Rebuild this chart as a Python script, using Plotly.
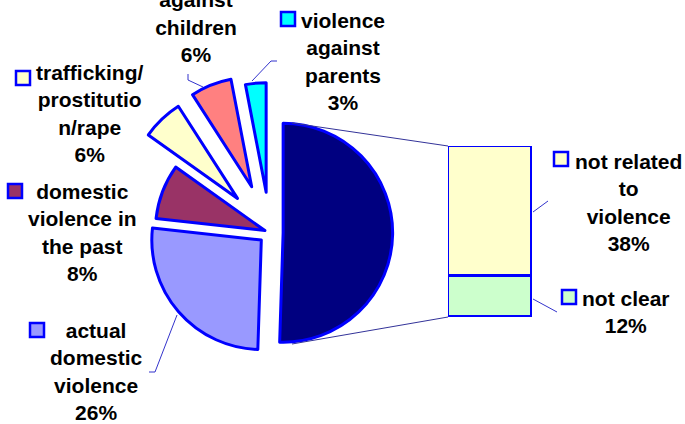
import plotly.graph_objects as go

W, H = 685, 424

# ---- data ----
bar_labels = ["not clear", "not related to violence"]
bar_values = [12, 38]
pie_labels = ["other", "actual domestic violence", "domestic violence in the past",
              "trafficking/prostitution/rape", "violence against children",
              "violence against parents"]
pie_values = [sum(bar_values), 26, 8, 6, 6, 3]
pie_colors = ["#000080", "#9999FF", "#993366", "#FFFFCC", "#FF8080", "#00FFFF"]
bar_colors = ["#CCFFCC", "#FFFFCC"]
pie_pull = [0.12, 0.105, 0.05, 0.43, 0.45, 0.37]

# display line-breaks of labels (as in the picture)
pie_label_lines = {
    "actual domestic violence": ["actual", "domestic", "violence"],
    "domestic violence in the past": ["domestic", "violence in", "the past"],
    "trafficking/prostitution/rape": ["trafficking/", "prostitutio", "n/rape"],
    "violence against children": ["violence", "against", "children"],
    "violence against parents": ["violence", "against", "parents"],
}
bar_label_lines = {
    "not clear": ["not clear"],
    "not related to violence": ["not related", "to", "violence"],
}


def P(x, y):
    return x / W, 1 - y / H


fig = go.Figure()

# pie geometry
cx, cy, r = 270, 232.5, 109.5
half = r * (2 + 2 * max(pie_pull)) / 2
fig.add_trace(go.Pie(
    labels=pie_labels, values=pie_values, sort=False, direction="clockwise",
    rotation=0, pull=pie_pull, textinfo="none", hoverinfo="label+percent",
    marker=dict(colors=pie_colors, line=dict(color="#0000FF", width=3)),
    domain=dict(x=[(cx - half) / W, (cx + half) / W],
                y=[1 - (cy + half) / H, 1 - (cy - half) / H]),
    showlegend=False,
))

# bar of pie
for lab, val, col in zip(bar_labels, bar_values, bar_colors):
    fig.add_trace(go.Bar(
        x=["other"], y=[val], name=lab, width=1, cliponaxis=False,
        marker=dict(color=col, line=dict(color="#0000FF", width=3)),
        showlegend=False, hoverinfo="name+y",
    ))

shapes = []
# connector lines pie -> bar
for a, b in [((292, 123), (448, 146)), ((292, 344), (448, 317))]:
    x0, y0 = P(*a); x1, y1 = P(*b)
    shapes.append(dict(type="line", xref="paper", yref="paper", x0=x0, y0=y0,
                       x1=x1, y1=y1, line=dict(color="#333399", width=1)))

# leader lines
leaders = [
    [(188, 74), (188, 80), (203, 87)],
    [(277, 61), (271, 61), (252, 81)],
    [(177, 315), (155, 372), (149, 372)],
    [(533, 212), (548, 201)],
    [(533, 299), (557, 312)],
]
for pts in leaders:
    path = ""
    for i, (x, y) in enumerate(pts):
        px_, py_ = P(x, y)
        path += ("M" if i == 0 else "L") + f"{px_},{py_} "
    shapes.append(dict(type="path", xref="paper", yref="paper", path=path,
                       line=dict(color="#3333CC", width=1)))

# legend keys
keys = [
    ((281, 12), "#00FFFF"),
    ((16, 71), "#FFFFCC"),
    ((8, 184), "#993366"),
    ((30, 323), "#9999FF"),
    ((554, 152), "#FFFFCC"),
    ((562, 290), "#CCFFCC"),
]
for (x, y), col in keys:
    x0, y1 = P(x, y); x1, y0 = P(x + 14, y + 14)
    shapes.append(dict(type="rect", xref="paper", yref="paper", x0=x0, x1=x1,
                       y0=y0, y1=y1, fillcolor=col,
                       line=dict(color="#0000FF", width=2.5)))

# labels
label_pos = {
    "violence against children": (196, 13),
    "violence against parents": (343, 61.25),
    "trafficking/prostitution/rape": (90, 113),
    "domestic violence in the past": (82.5, 232.75),
    "actual domestic violence": (96, 371),
    "not related to violence": (628, 202.5),
    "not clear": (626, 312),
}
total = sum(pie_values)
annotations = []
for lab, val in zip(pie_labels[1:], pie_values[1:]):
    lines = pie_label_lines[lab] + [f"{round(100 * val / total)}%"]
    x, y = P(*label_pos[lab])
    annotations.append(dict(x=x, y=y, xref="paper", yref="paper",
                            text="<br>".join(f"<b>{t}</b>" for t in lines),
                            showarrow=False, align="center",
                            xanchor="center", yanchor="middle"))
for lab, val in zip(bar_labels, bar_values):
    lines = bar_label_lines[lab] + [f"{val}%"]
    x, y = P(*label_pos[lab])
    annotations.append(dict(x=x, y=y, xref="paper", yref="paper",
                            text="<br>".join(f"<b>{t}</b>" for t in lines),
                            showarrow=False, align="center",
                            xanchor="center", yanchor="middle"))

fig.update_layout(
    width=W, height=H, margin=dict(l=0, r=0, t=0, b=0),
    paper_bgcolor="white", plot_bgcolor="rgba(0,0,0,0)",
    barmode="stack", bargap=0,
    font=dict(family="Liberation Sans, Arial, sans-serif", size=21, color="black"),
    xaxis=dict(domain=[448 / W, 532 / W], range=[-0.5, 0.5], visible=False,
               fixedrange=True),
    yaxis=dict(domain=[1 - 317 / H, 1 - 146 / H], range=[0, sum(bar_values)],
               visible=False, fixedrange=True),
    shapes=shapes, annotations=annotations,
)

fig.write_html("out.html", config={"displayModeBar": False},
               post_script="document.body.style.margin='0';document.body.style.overflow='hidden';")
